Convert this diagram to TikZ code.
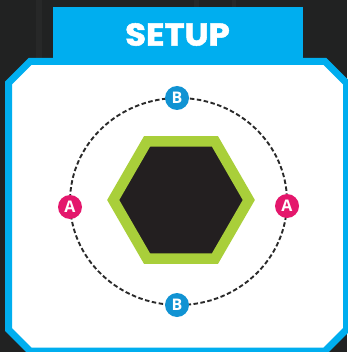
\documentclass[tikz,border=0pt]{standalone}
\usepackage{fontspec}
\newfontfamily\titlefont{Poppins}[BoldFeatures={FakeBold=1.6}]
\newfontfamily\badgefont{Open Sans}
\usetikzlibrary{shapes.geometric}
\definecolor{bgdark}{HTML}{212222}
\definecolor{tabblue}{HTML}{00AEEF}
\definecolor{badgeblue}{HTML}{1193D3}
\definecolor{badgepink}{HTML}{E4176C}
\definecolor{hexgreen}{HTML}{A9CF3A}
\definecolor{hexdark}{HTML}{231F20}
\definecolor{dashgray}{HTML}{2A2A2A}
\tikzset{
  badge/.style={circle, minimum size=24pt, inner sep=0pt, text=white,
    font=\badgefont\bfseries\fontsize{16}{16}\selectfont},
  badgeA/.style={badge, fill=badgepink},
  badgeB/.style={badge, fill=badgeblue},
}
\begin{document}
\begin{tikzpicture}[x=1pt,y=-1pt]
\useasboundingbox (0,0) rectangle (347,352);
\fill[bgdark] (0,0) rectangle (347,352);
% faint background stripes
\fill[white,opacity=0.03] (36,0) rectangle (42,60);
\fill[white,opacity=0.03] (194,0) rectangle (199,8);
\fill[white,opacity=0.03] (232,0) rectangle (236,8);
% title tab
\fill[tabblue] (53,7) rectangle (303,63);
\node[text=white, font=\titlefont\bfseries\fontsize{31.5}{31.5}\selectfont, inner sep=0pt, xscale=1.08] (title) at (177.5,34.5) {SETUP};
% board
\draw[tabblue, fill=white, line width=7pt, line join=miter]
  (8.5,83) -- (30,61.5) -- (325,61.5) -- (346.5,83) -- (346.5,329.5)
  -- (325,351) -- (30,351) -- (8.5,329.5) -- cycle;
% dashed ring
\draw[dashgray, line width=1.9pt, dash pattern=on 4.5pt off 2.5pt] (178.5,201.5) ellipse [x radius=108.5, y radius=103.5];
% hexagon
\draw[hexgreen, fill=hexdark, line width=10.5pt, line join=miter]
  (181,200) ++(0:67.8) -- ++(120:67.8) -- ++(180:67.8) -- ++(240:67.8) -- ++(300:67.8) -- ++(0:67.8) -- cycle;
% badges
\node[badgeB] (btop) at (177,98) {B};
\node[badgeB] (bbot) at (177,305) {B};
\node[badgeA] (aleft) at (70,207) {A};
\node[badgeA] (aright) at (287,206) {A};
\end{tikzpicture}
\end{document}
